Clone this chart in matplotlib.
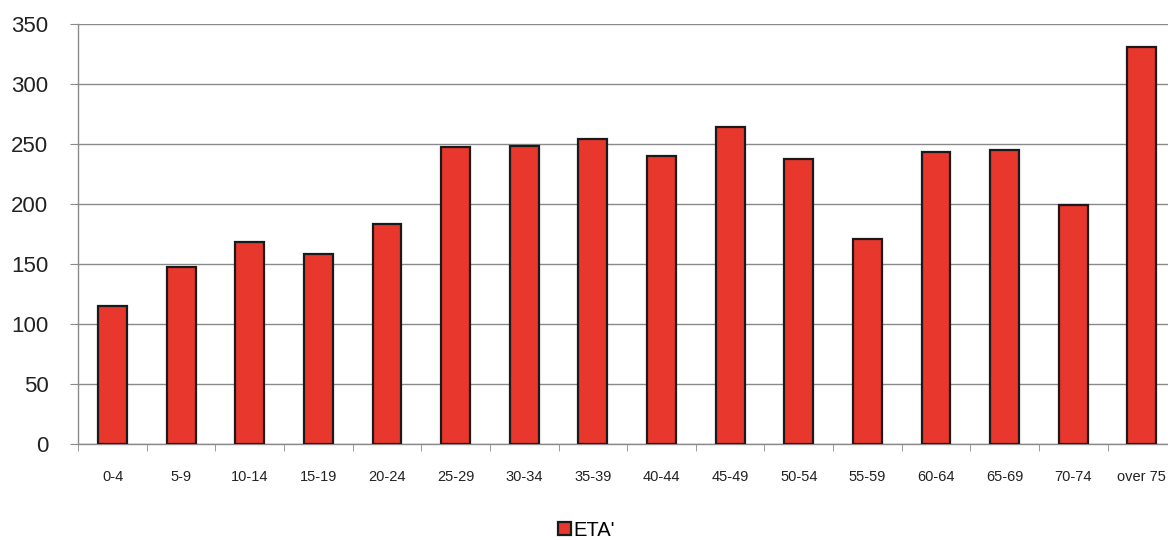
import numpy as np
import matplotlib
matplotlib.use('Agg')
import matplotlib.pyplot as plt

# Age bands and counts
ageBands = ['0-4', '5-9', '10-14', '15-19', '20-24', '25-29', '30-34', '35-39',
            '40-44', '45-49', '50-54', '55-59', '60-64', '65-69', '70-74', 'over 75']
etaCounts = [115, 147, 168, 158, 183, 247, 248, 254,
             240, 264, 237, 171, 243, 245, 199, 331]
yTicks = [0, 50, 100, 150, 200, 250, 300, 350]

plt.rcParams['font.family'] = ['Liberation Sans', 'DejaVu Sans']

fig = plt.figure(figsize=(11.68, 5.40), dpi=100)
ax = fig.add_axes([0.067, 0.178, 0.94, 0.778])

x = np.arange(len(ageBands))
ax.bar(x, etaCounts, width=0.42, color='#e8372c', edgecolor='#1a1a1a',
       linewidth=1.6, label="ETA'", zorder=3)

ax.set_xlim(-0.5, len(ageBands) - 0.5)
ax.set_ylim(0, 350)
ax.set_yticks(yTicks)
ax.set_yticklabels([str(v) for v in yTicks], fontsize=16, color='#222222')
ax.yaxis.grid(True, color='#8a8a8a', linewidth=1.0, zorder=0)

# category labels centred under bars, tick marks on the boundaries
ax.set_xticks(x)
ax.set_xticklabels(ageBands, fontsize=10.5, color='#222222')
ax.set_xticks(np.arange(len(ageBands) + 1) - 0.5, minor=True)
ax.tick_params(axis='x', which='major', length=0, pad=19)
ax.tick_params(axis='x', which='minor', length=5, color='#8a8a8a', direction='out')
ax.tick_params(axis='y', length=6, color='#8a8a8a', pad=15.5)

for s in ['top', 'right']:
    ax.spines[s].set_visible(False)
for s in ['left', 'bottom']:
    ax.spines[s].set_color('#8a8a8a')
    ax.spines[s].set_linewidth(1.0)

fig.legend(loc='center', bbox_to_anchor=(0.502, 0.018), frameon=False,
           fontsize=14.5, handlelength=0.65, handleheight=0.65, handletextpad=0.15,
           borderpad=0)

fig.savefig('out.png', dpi=100)
